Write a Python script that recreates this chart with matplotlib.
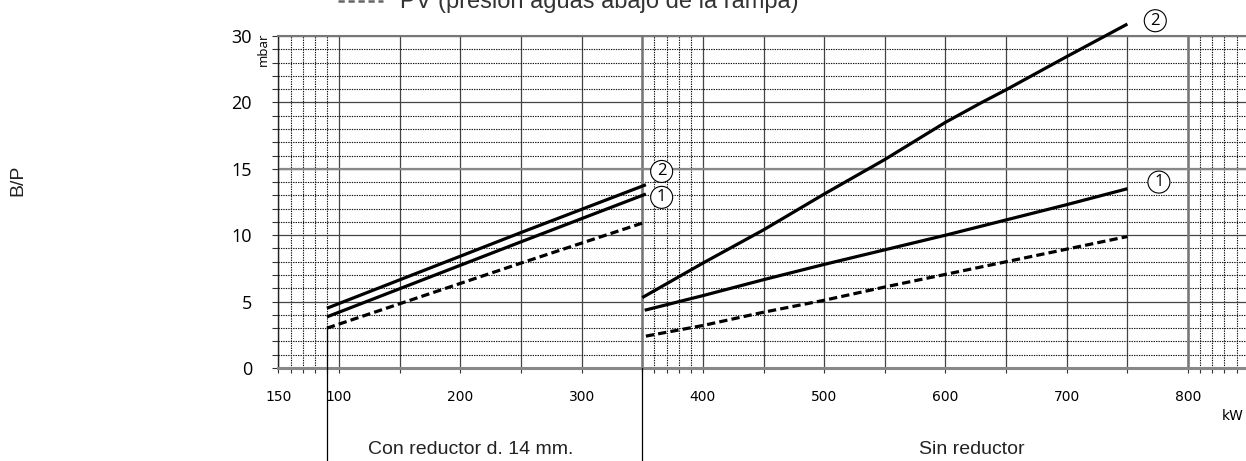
import numpy as np
import matplotlib
matplotlib.use("Agg")
import matplotlib.pyplot as plt
from matplotlib.lines import Line2D

# ---------------- data ----------------
left_kw = [90, 250, 353]
left_c2 = [4.5, 10.2, 13.8]
left_c1 = [3.85, 9.5, 13.1]
left_pv = [3.0, 7.9, 11.0]

right2_kw = [350, 400, 450, 500, 550, 600, 630, 650, 700, 750]
right2 = [5.3, 7.9, 10.4, 13.1, 15.7, 18.5, 20.0, 21.9, 26.9, 31.8]
right1_kw = [352, 400, 450, 500, 550, 600, 650, 700, 750]
right1 = [4.35, 5.45, 6.65, 7.8, 8.9, 10.0, 11.15, 12.3, 13.5]
rightpv_kw = [353, 400, 450, 500, 550, 600, 650, 700, 750]
rightpv = [2.4, 3.2, 4.2, 5.1, 6.1, 7.05, 8.0, 8.95, 9.9]

x_major = [50, 100, 150, 200, 250, 300, 350, 400, 450, 500, 550, 600, 650, 700, 750, 800]
x_major_labels = ["150", "100", "", "200", "", "300", "", "400", "", "500", "", "600", "", "700", "", "800"]
x_minor = [60, 70, 80, 90, 360, 370, 380, 390, 810, 820, 830, 840]
y_major = [0, 5, 10, 15, 20, 30]
y_major_labels = ["0", "5", "10", "15", "20", "30"]
y_minor = [1, 2, 3, 4, 6, 7, 8, 9, 11, 12, 13, 14, 16, 17, 18, 19, 22, 24, 26, 28]

title_text = "PV (presión aguas abajo de la rampa)"
left_section = "Con reductor d. 14 mm."
right_section = "Sin reductor"

# ---------------- figure ----------------
W, H = 1246, 461
fig = plt.figure(figsize=(W / 100, H / 100), dpi=100)
ax = fig.add_axes([278.4 / W, (H - 368) / H, (W - 278.4) / W, (368 - 36) / H])


def fwd(y):
    y = np.asarray(y, dtype=float)
    return np.where(y <= 20, y, 20 + (y - 20) / 2.0)


def inv(u):
    u = np.asarray(u, dtype=float)
    return np.where(u <= 20, u, 20 + (u - 20) * 2.0)


ax.set_yscale("function", functions=(fwd, inv))
ax.set_xlim(50, 847.8)
ax.set_ylim(0, 30)

ax.set_xticks(x_major)
ax.set_xticklabels(x_major_labels, fontfamily="DejaVu Sans", fontsize=10)
ax.set_xticks(x_minor, minor=True)
ax.set_yticks(y_major)
ax.set_yticklabels(y_major_labels, fontfamily="Open Sans", fontsize=13)
ax.set_yticks(y_minor, minor=True)

ax.tick_params(axis="x", which="both", length=3.5, width=0.8, color="#333", pad=12, direction="out")
ax.tick_params(axis="y", which="both", length=4, width=0.8, color="#333", pad=15, direction="out")

ax.grid(which="major", color="#444", lw=0.9, ls="-")
ax.grid(which="minor", color="#111", lw=0.8, ls=(0, (1.2, 1.0)))
ax.set_axisbelow(True)

ax.spines["right"].set_visible(False)
ax.spines["top"].set_color("#777")
ax.spines["top"].set_linewidth(1.5)
ax.spines["bottom"].set_color("#888")
ax.spines["bottom"].set_linewidth(2.2)
ax.spines["left"].set_color("#222")
ax.spines["left"].set_linewidth(1.0)

# emphasised grid lines
for xv in (350, 800):
    ax.axvline(xv, color="#777", lw=1.8, zorder=1)
ax.axhline(15, color="#888", lw=1.6, zorder=1)

# curves
lw = 2.3
ax.plot(left_kw, left_c2, color="black", lw=lw, solid_capstyle="butt", zorder=3)
ax.plot(left_kw, left_c1, color="black", lw=lw, solid_capstyle="butt", zorder=3)
ax.plot(left_kw, left_pv, color="black", lw=lw, ls=(0, (2.6, 1.3)), zorder=3)
ax.plot(right2_kw, right2, color="black", lw=lw, solid_capstyle="butt", zorder=3, clip_on=False)
ax.plot(right1_kw, right1, color="black", lw=lw, solid_capstyle="butt", zorder=3)
ax.plot(rightpv_kw, rightpv, color="black", lw=lw, ls=(0, (2.6, 1.3)), zorder=3)

# separator lines running below the axis
ax.plot([left_kw[0], left_kw[0]], [left_pv[0], -7.5], color="black", lw=0.9, clip_on=False, zorder=3)
ax.plot([350, 350], [0, -7.5], color="black", lw=0.9, clip_on=False, zorder=3)

# circled curve labels
circ = dict(boxstyle="circle,pad=0.18", fc="white", ec="black", lw=0.8)
for (xx, yy, t) in [(366, 14.8, "2"), (366, 12.85, "1"), (776, 14.0, "1"), (773, 32.3, "2")]:
    ax.text(xx, yy, t, ha="center", va="center", fontsize=12, fontfamily="Open Sans",
            bbox=circ, clip_on=False, zorder=4)

# texts
ax.text((263 - 278.4) / (W - 278.4), (368 - 49) / (368 - 36), "mbar",
        transform=ax.transAxes, rotation=90, ha="center", va="center", fontsize=9.5,
        fontfamily="Open Sans")
fig.text(18 / W, 1 - 180 / H, "B/P", rotation=90, ha="center", va="center", fontsize=14,
         fontfamily="Liberation Sans", color="#222")
fig.text(1233 / W, 1 - 416 / H, "kW", ha="center", va="center", fontsize=10,
         fontfamily="DejaVu Sans")
fig.text(471 / W, 1 - 449 / H, left_section, ha="center", va="center", fontsize=14,
         fontfamily="Liberation Sans", color="#222")
fig.text(972 / W, 1 - 449 / H, right_section, ha="center", va="center", fontsize=14,
         fontfamily="Liberation Sans", color="#222")

# title (cut off at top, as in the reference)
fig.text(400 / W, 1 - 8 / H, title_text, ha="left", va="baseline", fontsize=17,
         fontfamily="Liberation Sans", color="#333")
fig.add_artist(Line2D([338 / W, 383 / W], [1 - 1.5 / H, 1 - 1.5 / H], transform=fig.transFigure,
                      color="#666", lw=1.8, ls=(0, (2.5, 1.5))))

fig.savefig("out.png", dpi=100)
